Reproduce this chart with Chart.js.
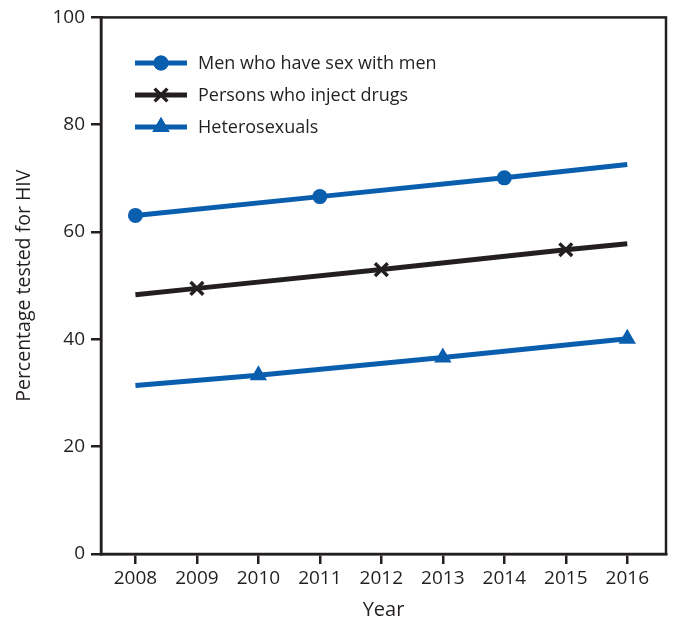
<!DOCTYPE html>
<html><head><meta charset="utf-8">
<script src="https://cdn.jsdelivr.net/npm/chart.js@4.4.1/dist/chart.umd.min.js"></script>
<style>html,body{margin:0;padding:0;background:#fff}#wrap{width:676px;height:622px}</style>
</head><body><div id="wrap"><canvas id="c" width="676" height="622"></canvas></div>
<script>
const years = [2008, 2009, 2010, 2011, 2012, 2013, 2014, 2015, 2016];
const yTicks = [0, 20, 40, 60, 80, 100];
const seriesNames = ['Men who have sex with men', 'Persons who inject drugs', 'Heterosexuals'];
const msmYears = [2008, 2011, 2014, 2016];
const msmValues = [63.1, 66.6, 70.1, 72.6];
const pwidYears = [2008, 2009, 2012, 2015, 2016];
const pwidValues = [48.3, 49.5, 53.0, 56.7, 57.8];
const hetYears = [2008, 2010, 2013, 2016];
const hetValues = [31.4, 33.3, 36.6, 40.1];

const BLUE = '#0A5EAE', BLACK = '#231F20';
const FONT = "'Open Sans', 'Noto Sans', sans-serif";

function pts(xs, ys){ return xs.map((x,i)=>({x:x, y:ys[i]})); }

const styles = [
  {color: BLUE, point: 'circle', radius: [7.5,7.5,7.5,0], bw: 0, lr: 7.5},
  {color: BLACK, point: 'crossRot', radius: [0,9,9,9,0], bw: 3.5, lr: 9},
  {color: BLUE, point: 'triangle', radius: [0,10,10,10], bw: 0, lr: 10}
];
const dataSets = [pts(msmYears, msmValues), pts(pwidYears, pwidValues), pts(hetYears, hetValues)];

const legendPlugin = {
  id: 'customLegend',
  afterDraw(chart){
    const ctx = chart.ctx;
    const rowsY = [63, 95, 127];
    seriesNames.forEach((name, i)=>{
      const st = styles[i];
      ctx.save();
      ctx.strokeStyle = st.color; ctx.lineWidth = 5; ctx.lineCap = 'butt';
      ctx.beginPath(); ctx.moveTo(135, rowsY[i]); ctx.lineTo(187, rowsY[i]); ctx.stroke();
      ctx.fillStyle = st.color; ctx.lineWidth = st.bw || 1;
      Chart.helpers.drawPoint(ctx, {pointStyle: st.point, radius: st.lr, rotation: 0, borderWidth: st.bw}, 161, rowsY[i]);
      if (st.bw === 0) ctx.fill();
      ctx.restore();
      ctx.save();
      ctx.fillStyle = BLACK; ctx.font = "18px " + FONT; ctx.textBaseline = 'middle';
      ctx.fillText(name, 198, rowsY[i] + 1);
      ctx.restore();
    });
  }
};

const frame = {
  id: 'frame',
  afterDatasetsDraw(chart){
    const a = chart.chartArea, ctx = chart.ctx;
    ctx.save(); ctx.strokeStyle = BLACK; ctx.lineWidth = 2.5;
    ctx.strokeRect(a.left, a.top, a.right - a.left, a.bottom - a.top);
    ctx.restore();
  }
};

new Chart(document.getElementById('c'), {
  type: 'line',
  data: {
    datasets: dataSets.map((d, i)=>({
      label: seriesNames[i],
      data: d,
      borderColor: styles[i].color,
      backgroundColor: styles[i].color,
      borderWidth: 5,
      pointStyle: styles[i].point,
      pointRadius: styles[i].radius,
      pointHoverRadius: styles[i].radius,
      pointBorderWidth: styles[i].bw,
      pointBorderColor: styles[i].color,
      pointBackgroundColor: styles[i].color,
      fill: false,
      tension: 0,
      clip: false
    }))
  },
  options: {
    responsive: false,
    animation: false,
    devicePixelRatio: 1,
    layout: {padding: {left: 0, right: 5, top: 16, bottom: 0}},
    plugins: {legend: {display: false}, tooltip: {enabled: false}},
    scales: {
      x: {
        type: 'linear', min: 2007.44, max: 2016.63,
        afterBuildTicks(scale){ scale.ticks = years.map(v=>({value: v})); },
        afterFit(scale){ scale.height = 68; },
        grid: {drawOnChartArea: false, drawTicks: true, tickLength: 10, color: BLACK, lineWidth: 2.5},
        border: {display: true, color: BLACK, width: 2.5},
        ticks: {color: BLACK, font: {family: FONT, size: 19}, padding: 3, autoSkip: false, maxRotation: 0,
          callback: (v)=>String(v)},
        title: {display: true, text: 'Year', color: BLACK, font: {family: FONT, size: 20}, padding: {top: 0, bottom: 0}}
      },
      y: {
        min: 0, max: 100,
        afterBuildTicks(scale){ scale.ticks = yTicks.map(v=>({value: v})); },
        afterFit(scale){ scale.width = 101; },
        grid: {drawOnChartArea: false, drawTicks: true, tickLength: 10, color: BLACK, lineWidth: 2.5},
        border: {display: true, color: BLACK, width: 2.5},
        ticks: {color: BLACK, font: {family: FONT, size: 19}, padding: 6},
        title: {display: true, text: 'Percentage tested for HIV', color: BLACK, font: {family: FONT, size: 19.5}, padding: {top: 13, bottom: 0}}
      }
    }
  },
  plugins: [frame, legendPlugin]
});
</script>
</body></html>
